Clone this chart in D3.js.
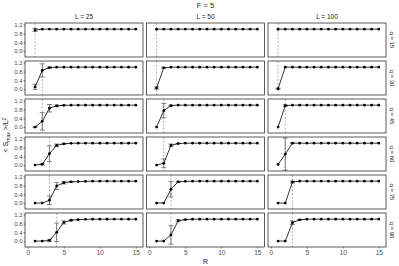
<!DOCTYPE html>
<html><head><meta charset="utf-8">
<script src="https://cdn.jsdelivr.net/npm/d3@7"></script>
<style>body{margin:0;background:#fff}svg{display:block;font-family:"Liberation Sans",Arial,sans-serif}</style>
</head><body><svg id="c" width="399" height="266"></svg>
<script>
const R = [1,2,3,4,5,6,7,8,9,10,11,12,13,14,15];
const Ls = [25, 50, 100];
const qs = [15, 30, 45, 60, 75, 90];
const xTicks = [0, 5, 10, 15];
const yTicks = [0, 0.4, 0.8, 1.2];

// mean <Smax>/L^2, one row per q, for each L
const meanL25 = [
  [0.96,1,1,1,1,1,1,1,1,1,1,1,1,1,1],
  [0.1,0.85,0.98,1,1,1,1,1,1,1,1,1,1,1,1],
  [0,0.26,0.86,0.97,0.99,1,1,1,1,1,1,1,1,1,1],
  [0,0.04,0.52,0.9,0.97,0.99,1,1,1,1,1,1,1,1,1],
  [0,0,0.13,0.78,0.93,0.97,0.98,0.99,1,1,1,1,1,1,1],
  [0,0,0.03,0.4,0.85,0.95,0.98,0.99,1,1,1,1,1,1,1]
];
const sdL25 = [
  [0.07,0,0,0,0,0,0,0,0,0,0,0,0,0,0],
  [0.12,0.3,0.03,0,0,0,0,0,0,0,0,0,0,0,0],
  [0.01,0.4,0.17,0.04,0.01,0,0,0,0,0,0,0,0,0,0],
  [0,0.04,0.36,0.06,0.02,0,0,0,0,0,0,0,0,0,0],
  [0,0,0.2,0.16,0.06,0.02,0,0,0,0,0,0,0,0,0],
  [0,0,0.05,0.42,0.07,0.03,0.01,0,0,0,0,0,0,0,0]
];
const meanL50 = [
  [1,1,1,1,1,1,1,1,1,1,1,1,1,1,1],
  [0.05,0.97,1,1,1,1,1,1,1,1,1,1,1,1,1],
  [0,0.75,0.98,1,1,1,1,1,1,1,1,1,1,1,1],
  [0,0.08,0.9,0.98,1,1,1,1,1,1,1,1,1,1,1],
  [0,0,0.63,0.97,0.99,1,1,1,1,1,1,1,1,1,1],
  [0,0,0.28,0.93,0.98,1,1,1,1,1,1,1,1,1,1]
];
const sdL50 = [
  [0,0,0,0,0,0,0,0,0,0,0,0,0,0,0],
  [0.05,0.02,0,0,0,0,0,0,0,0,0,0,0,0,0],
  [0,0.33,0.02,0,0,0,0,0,0,0,0,0,0,0,0],
  [0,0.2,0.06,0.01,0,0,0,0,0,0,0,0,0,0,0],
  [0,0,0.35,0.03,0,0,0,0,0,0,0,0,0,0,0],
  [0,0,0.42,0.05,0.01,0,0,0,0,0,0,0,0,0,0]
];
const meanL100 = [
  [1,1,1,1,1,1,1,1,1,1,1,1,1,1,1],
  [0.02,1,1,1,1,1,1,1,1,1,1,1,1,1,1],
  [0,0.98,1,1,1,1,1,1,1,1,1,1,1,1,1],
  [0.03,0.5,1,1,1,1,1,1,1,1,1,1,1,1,1],
  [0,0,0.96,1,1,1,1,1,1,1,1,1,1,1,1],
  [0,0,0.84,0.97,1,1,1,1,1,1,1,1,1,1,1]
];
const sdL100 = [
  [0,0,0,0,0,0,0,0,0,0,0,0,0,0,0],
  [0.02,0,0,0,0,0,0,0,0,0,0,0,0,0,0],
  [0,0.04,0,0,0,0,0,0,0,0,0,0,0,0,0],
  [0,0.73,0.01,0,0,0,0,0,0,0,0,0,0,0,0],
  [0,0,0.04,0,0,0,0,0,0,0,0,0,0,0,0],
  [0,0,0.08,0.02,0,0,0,0,0,0,0,0,0,0,0]
];
// dashed reference R for each q, per L
const vlineL25 = [1,2,2,3,3,4];
const vlineL50 = [1,1,2,2,3,3];
const vlineL100 = [1,1,2,2,3,3];

const means = [meanL25, meanL50, meanL100];
const sds = [sdL25, sdL50, sdL100];
const vlines = [vlineL25, vlineL50, vlineL100];

const svg = d3.select("#c");
const pw = 118, ph = 34, px0 = 25, pxStep = 121.5, py0 = 23, pyStep = 38;

svg.append("text").attr("x", 205.5).attr("y", 7.5).attr("text-anchor","middle")
  .attr("font-size", 7.5).attr("fill","#1a1a1a").text("F = 5");

Ls.forEach((L, ci) => {
  const x0 = px0 + ci*pxStep;
  const x = d3.scaleLinear().domain([-0.4, 16.0]).range([x0, x0+pw]);
  svg.append("text").attr("x", x0+pw/2).attr("y", 19).attr("text-anchor","middle")
    .attr("font-size", 6.5).attr("fill","#1a1a1a").text("L = " + L);
  qs.forEach((q, ri) => {
    const y0 = py0 + ri*pyStep;
    const y = d3.scaleLinear().domain([-0.27, 1.28]).range([y0+ph, y0]);
    const g = svg.append("g");
    g.append("rect").attr("x", x0).attr("y", y0).attr("width", pw).attr("height", ph)
      .attr("fill","#fff");
    const m = means[ci][ri], s = sds[ci][ri];
    const data = R.map((r,i) => ({r, m: m[i], s: s[i]}));
    // dashed line
    g.append("line").attr("x1", x(vlines[ci][ri])).attr("x2", x(vlines[ci][ri]))
      .attr("y1", y0).attr("y2", y0+ph).attr("stroke","#a0a0a0").attr("stroke-width",0.8)
      .attr("stroke-dasharray","2,1.6");
    // error bars
    const eb = data.filter(d => d.s > 0);
    const cap = 0.35;
    const ebg = g.append("g").attr("stroke","#555").attr("stroke-width",0.7).attr("fill","none");
    eb.forEach(d => {
      ebg.append("line").attr("x1",x(d.r)).attr("x2",x(d.r)).attr("y1",y(d.m-d.s)).attr("y2",y(d.m+d.s));
      ebg.append("line").attr("x1",x(d.r-cap)).attr("x2",x(d.r+cap)).attr("y1",y(d.m-d.s)).attr("y2",y(d.m-d.s));
      ebg.append("line").attr("x1",x(d.r-cap)).attr("x2",x(d.r+cap)).attr("y1",y(d.m+d.s)).attr("y2",y(d.m+d.s));
    });
    g.append("path").datum(data).attr("fill","none").attr("stroke","#000").attr("stroke-width",0.8)
      .attr("d", d3.line().x(d => x(d.r)).y(d => y(d.m)));
    g.selectAll("circle").data(data).join("circle").attr("cx", d => x(d.r)).attr("cy", d => y(d.m))
      .attr("r", 1.4).attr("fill","#000");
    g.append("rect").attr("x", x0).attr("y", y0).attr("width", pw).attr("height", ph)
      .attr("fill","none").attr("stroke","#333").attr("stroke-width",0.8);
    // y axis on first column
    if (ci === 0) {
      const ya = d3.axisLeft(y).tickValues(yTicks).tickFormat(d3.format(".1f")).tickSize(1.5).tickPadding(1);
      const ag = svg.append("g").attr("transform", `translate(${x0},0)`).call(ya);
      ag.select(".domain").remove();
      ag.selectAll("text").attr("font-size", 6).attr("fill","#4d4d4d").attr("font-family","Liberation Sans, Arial, sans-serif");
      ag.selectAll("line").attr("stroke","#333").attr("stroke-width",0.6);
    }
    // right strip labels on last column
    if (ci === Ls.length-1) {
      svg.append("text").attr("transform", `translate(${x0+pw+4},${y0+ph/2}) rotate(90)`)
        .attr("text-anchor","middle").attr("font-size", 6).attr("fill","#1a1a1a").text("q = " + q);
    }
    // x axis on last row
    if (ri === qs.length-1) {
      const xa = d3.axisBottom(x).tickValues(xTicks).tickFormat(d3.format("d")).tickSize(1.5).tickPadding(1.5);
      const ag = svg.append("g").attr("transform", `translate(0,${y0+ph})`).call(xa);
      ag.select(".domain").remove();
      ag.selectAll("text").attr("font-size", 6.5).attr("fill","#4d4d4d").attr("font-family","Liberation Sans, Arial, sans-serif");
      ag.selectAll("line").attr("stroke","#333").attr("stroke-width",0.6);
    }
  });
});

// axis titles
svg.append("text").attr("x", 205.5).attr("y", 264).attr("text-anchor","middle")
  .attr("font-size", 7).attr("fill","#1a1a1a").text("R");
const yt = svg.append("text").attr("transform","translate(8,135) rotate(-90)").attr("text-anchor","middle")
  .attr("font-size", 7).attr("fill","#1a1a1a");
yt.append("tspan").text("< S");
yt.append("tspan").attr("font-size", 5).attr("dy", 1.5).text("max");
yt.append("tspan").attr("dy", -1.5).text(" >/L");
yt.append("tspan").attr("font-size", 5).attr("dy", -2.5).text("2");
</script></body></html>
